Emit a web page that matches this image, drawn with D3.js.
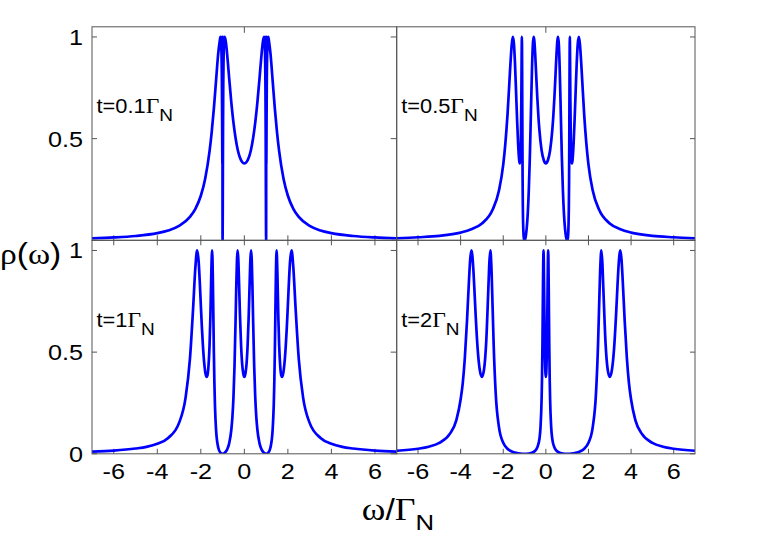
<!DOCTYPE html>
<html><head><meta charset="utf-8">
<script src="https://cdn.jsdelivr.net/npm/d3@7"></script>
<style>body{margin:0;background:#fff}</style></head>
<body><svg id="c" width="764" height="535"></svg>
<script>
// ---------- data ----------
const xTicks = [-6, -4, -2, 0, 2, 4, 6];
const yTicks = [0, 0.5, 1];
const yTickLabelsTop = ["", "0.5", "1"];
const yTickLabelsBottom = ["0", "0.5", "1"];
const panelT = ["0.1", "0.5", "1", "2"];

const curveT01 = [[-7,0.010],[-6,0.014],[-5,0.021],[-4,0.035],[-3.5,0.048],[-3,0.071],[-2.5,0.115],[-2.25,0.155],[-2,0.219],[-1.8,0.303],[-1.6,0.437],[-1.5,0.532],[-1.4,0.649],[-1.3,0.785],[-1.2,0.919],[-1.13,0.980],[-1.1,1.0],[-1.07,0.976],[-1.05,0.921],[-1.03,0.760],[-1.02,0.581],[-1.015,0.464],[-1.01,0.378],[-1.007,0.513],[-1.005,1.0],[-1.004,0.508],[-1.002,0.035],[-1,0],[-0.995,0.071],[-0.99,0.219],[-0.98,0.534],[-0.97,0.739],[-0.95,0.920],[-0.93,0.980],[-0.9025,1.0],[-0.85,0.976],[-0.8,0.926],[-0.75,0.865],[-0.7,0.800],[-0.6,0.680],[-0.5,0.579],[-0.4,0.501],[-0.3,0.443],[-0.2,0.406],[-0.1,0.385],[0,0.378],
[0.1,0.385],[0.2,0.406],[0.3,0.443],[0.4,0.501],[0.5,0.579],[0.6,0.680],[0.7,0.800],[0.75,0.865],[0.8,0.926],[0.85,0.976],[0.9025,1.0],[0.93,0.980],[0.95,0.920],[0.97,0.739],[0.98,0.534],[0.99,0.219],[0.995,0.071],[1,0],[1.002,0.035],[1.004,0.508],[1.005,1.0],[1.007,0.513],[1.01,0.378],[1.015,0.464],[1.02,0.581],[1.03,0.760],[1.05,0.921],[1.07,0.976],[1.1,1.0],[1.13,0.980],[1.2,0.919],[1.3,0.785],[1.4,0.649],[1.5,0.532],[1.6,0.437],[1.8,0.303],[2,0.219],[2.25,0.155],[2.5,0.115],[3,0.071],[3.5,0.048],[4,0.035],[5,0.021],[6,0.014],[7,0.010]];

const curveT05 = [[-7,0.010],[-6,0.015],[-5,0.022],[-4,0.038],[-3.5,0.054],[-3,0.083],[-2.5,0.150],[-2.2,0.245],[-2,0.372],[-1.9,0.477],[-1.8,0.617],[-1.7,0.799],[-1.65,0.889],[-1.6,0.964],[-1.5515,1.0],[-1.5,0.969],[-1.45,0.874],[-1.4,0.736],[-1.35,0.594],[-1.3,0.471],[-1.25,0.392],[-1.2247,0.378],[-1.2,0.397],[-1.17,0.504],[-1.15,0.694],[-1.135,0.916],[-1.1245,1.0],[-1.12,0.966],[-1.112,0.813],[-1.1,0.492],[-1.09,0.291],[-1.08,0.170],[-1.06,0.060],[-1.03,0.009],[-1,0],[-0.95,0.015],[-0.9,0.057],[-0.85,0.130],[-0.8,0.246],[-0.75,0.415],[-0.7,0.631],[-0.65,0.845],[-0.61,0.962],[-0.573,1.0],[-0.54,0.981],[-0.5,0.915],[-0.45,0.806],[-0.4,0.700],[-0.35,0.610],[-0.3,0.539],[-0.2,0.443],[-0.1,0.395],[0,0.378],
[0.1,0.395],[0.2,0.443],[0.3,0.539],[0.35,0.610],[0.4,0.700],[0.45,0.806],[0.5,0.915],[0.54,0.981],[0.573,1.0],[0.61,0.962],[0.65,0.845],[0.7,0.631],[0.75,0.415],[0.8,0.246],[0.85,0.130],[0.9,0.057],[0.95,0.015],[1,0],[1.03,0.009],[1.06,0.060],[1.08,0.170],[1.09,0.291],[1.1,0.492],[1.112,0.813],[1.12,0.966],[1.1245,1.0],[1.135,0.916],[1.15,0.694],[1.17,0.504],[1.2,0.397],[1.2247,0.378],[1.25,0.392],[1.3,0.471],[1.35,0.594],[1.4,0.736],[1.45,0.874],[1.5,0.969],[1.5515,1.0],[1.6,0.964],[1.65,0.889],[1.7,0.799],[1.8,0.617],[1.9,0.477],[2,0.372],[2.2,0.245],[2.5,0.150],[3,0.083],[3.5,0.054],[4,0.038],[5,0.022],[6,0.015],[7,0.010]];

const curveT1 = [[-7,0.011],[-6,0.016],[-5,0.026],[-4.5,0.034],[-4,0.049],[-3.5,0.078],[-3,0.152],[-2.7,0.276],[-2.5,0.467],[-2.35,0.724],[-2.25,0.917],[-2.17,1.0],[-2.1,0.946],[-2.05,0.849],[-2,0.732],[-1.95,0.619],[-1.9,0.526],[-1.85,0.453],[-1.78,0.392],[-1.732,0.378],[-1.7,0.384],[-1.65,0.428],[-1.6,0.531],[-1.56,0.677],[-1.52,0.882],[-1.481,1.0],[-1.45,0.880],[-1.425,0.688],[-1.4,0.494],[-1.375,0.343],[-1.35,0.237],[-1.3,0.118],[-1.2,0.031],[-1.1,0.005],[-1,0],[-0.9,0.005],[-0.8,0.019],[-0.7,0.050],[-0.6,0.117],[-0.55,0.179],[-0.5,0.279],[-0.45,0.438],[-0.4,0.672],[-0.37,0.828],[-0.34,0.952],[-0.3115,1.0],[-0.28,0.961],[-0.25,0.864],[-0.2,0.677],[-0.15,0.533],[-0.1,0.441],[-0.05,0.395],[0,0.378],
[0.05,0.395],[0.1,0.441],[0.15,0.533],[0.2,0.677],[0.25,0.864],[0.28,0.961],[0.3115,1.0],[0.34,0.952],[0.37,0.828],[0.4,0.672],[0.45,0.438],[0.5,0.279],[0.55,0.179],[0.6,0.117],[0.7,0.050],[0.8,0.019],[0.9,0.005],[1,0],[1.1,0.005],[1.2,0.031],[1.3,0.118],[1.35,0.237],[1.375,0.343],[1.4,0.494],[1.425,0.688],[1.45,0.880],[1.481,1.0],[1.52,0.882],[1.56,0.677],[1.6,0.531],[1.65,0.428],[1.7,0.384],[1.732,0.378],[1.78,0.392],[1.85,0.453],[1.9,0.526],[1.95,0.619],[2,0.732],[2.05,0.849],[2.1,0.946],[2.17,1.0],[2.25,0.917],[2.35,0.724],[2.5,0.467],[2.7,0.276],[3,0.152],[3.5,0.078],[4,0.049],[4.5,0.034],[5,0.026],[6,0.016],[7,0.011]];

const curveT2 = [[-7,0.015],[-6,0.025],[-5.5,0.035],[-5,0.054],[-4.5,0.099],[-4.2,0.166],[-4,0.267],[-3.9,0.348],[-3.8,0.475],[-3.7,0.655],[-3.6,0.868],[-3.55,0.956],[-3.494,1.0],[-3.45,0.975],[-3.4,0.903],[-3.35,0.801],[-3.3,0.693],[-3.2,0.515],[-3.1,0.412],[-3,0.378],[-2.9,0.416],[-2.8,0.548],[-2.7,0.808],[-2.65,0.943],[-2.6035,1.0],[-2.56,0.931],[-2.5,0.725],[-2.45,0.540],[-2.35,0.291],[-2.2,0.131],[-2,0.054],[-1.8,0.025],[-1.6,0.0116],[-1.4,0.0046],[-1.2,0.0011],[-1,0],[-0.8,0.0014],[-0.6,0.0075],[-0.5,0.015],[-0.4,0.032],[-0.3,0.074],[-0.25,0.131],[-0.2,0.267],[-0.18,0.371],[-0.16,0.536],[-0.14,0.758],[-0.125,0.919],[-0.11,1.0],[-0.095,0.937],[-0.08,0.797],[-0.06,0.606],[-0.04,0.472],[-0.02,0.400],[0,0.378],
[0.02,0.400],[0.04,0.472],[0.06,0.606],[0.08,0.797],[0.095,0.937],[0.11,1.0],[0.125,0.919],[0.14,0.758],[0.16,0.536],[0.18,0.371],[0.2,0.267],[0.25,0.131],[0.3,0.074],[0.4,0.032],[0.5,0.015],[0.6,0.0075],[0.8,0.0014],[1,0],[1.2,0.0011],[1.4,0.0046],[1.6,0.0116],[1.8,0.025],[2,0.054],[2.2,0.131],[2.35,0.291],[2.45,0.540],[2.5,0.725],[2.56,0.931],[2.6035,1.0],[2.65,0.943],[2.7,0.808],[2.8,0.548],[2.9,0.416],[3,0.378],[3.1,0.412],[3.2,0.515],[3.3,0.693],[3.35,0.801],[3.4,0.903],[3.45,0.975],[3.494,1.0],[3.55,0.956],[3.6,0.868],[3.7,0.655],[3.8,0.475],[3.9,0.348],[4,0.267],[4.2,0.166],[4.5,0.099],[5,0.054],[5.5,0.035],[6,0.025],[7,0.015]];

// ---------- layout ----------
const svg = d3.select("#c");
const colX = [[92, 396.7], [396.7, 695]];
const rowY = [[26.8, 240.3], [240.3, 453.8]];
const xDomain = [-7, 7], yDomain = [0, 1.05];
const frameColor = "#555";
const lineColor = "#0000ff";
const sx = 1.12; // horizontal text stretch
const sans = "'Liberation Sans', Arial, Helvetica, sans-serif";
const serif = "'Liberation Serif', 'Times New Roman', serif";

const curves = [curveT01, curveT05, curveT1, curveT2];

function txt(x, y, s, size, anchor) {
  return svg.append("text")
    .attr("transform", `translate(${x},${y}) scale(${sx},1)`)
    .attr("text-anchor", anchor || "start")
    .attr("font-family", sans).attr("font-size", size)
    .attr("fill", "#000").text(s);
}

curves.forEach((data, i) => {
  const c = i % 2, r = Math.floor(i / 2);
  const x = d3.scaleLinear().domain(xDomain).range(colX[c]);
  const y = d3.scaleLinear().domain(yDomain).range([rowY[r][1], rowY[r][0]]);
  const g = svg.append("g");
  const cid = "clip" + i;
  svg.append("clipPath").attr("id", cid).append("rect")
    .attr("x", colX[c][0]).attr("y", rowY[r][0])
    .attr("width", colX[c][1] - colX[c][0]).attr("height", rowY[r][1] - rowY[r][0]);

  // ticks
  const tk = g.append("g").attr("stroke", frameColor).attr("stroke-width", 1);
  xTicks.forEach(v => {
    tk.append("line").attr("x1", x(v)).attr("x2", x(v))
      .attr("y1", rowY[r][1]).attr("y2", rowY[r][1] - 5);
    if (r === 1 || v === 0) {
      tk.append("line").attr("x1", x(v)).attr("x2", x(v))
        .attr("y1", rowY[r][0]).attr("y2", rowY[r][0] + (r === 1 ? 5 : 6));
    }
  });
  yTicks.forEach(v => {
    if (c === 0) tk.append("line").attr("x1", colX[c][0]).attr("x2", colX[c][0] + 5)
      .attr("y1", y(v)).attr("y2", y(v));
    tk.append("line").attr("x1", colX[c][1]).attr("x2", colX[c][1] - (c === 0 ? 6 : 5))
      .attr("y1", y(v)).attr("y2", y(v));
  });

  // curve
  const line = d3.line().x(d => x(d[0])).y(d => y(d[1])).curve(d3.curveMonotoneX);
  g.append("path").datum(data).attr("d", line)
    .attr("clip-path", `url(#${cid})`)
    .attr("fill", "none").attr("stroke", lineColor)
    .attr("stroke-width", 2.7).attr("stroke-linejoin", "round");

  // frame
  g.append("rect").attr("x", colX[c][0]).attr("y", rowY[r][0])
    .attr("width", colX[c][1] - colX[c][0]).attr("height", rowY[r][1] - rowY[r][0])
    .attr("fill", "none").attr("stroke", frameColor).attr("stroke-width", 1);

  // y tick labels (left column)
  if (c === 0) {
    const labs = r === 0 ? yTickLabelsTop : yTickLabelsBottom;
    yTicks.forEach((v, k) => { if (labs[k]) txt(83, y(v) + 8, labs[k], 22.5, "end"); });
  }
  // x tick labels (bottom row)
  if (r === 1) {
    xTicks.forEach(v => txt(x(v), 479, String(v), 22.5, "middle"));
  }

  // panel label
  const lx = colX[c][0] + 4.5, ly = r === 0 ? 112.5 : 327;
  const t = svg.append("text")
    .attr("transform", `translate(${lx},${ly}) scale(${sx},1)`)
    .attr("font-family", sans).attr("font-size", 19.5).attr("fill", "#000");
  t.append("tspan").text("t=" + panelT[i]);
  t.append("tspan").attr("font-family", serif).attr("font-size", 21).text("Γ");
  t.append("tspan").attr("font-size", 17).attr("dy", 8).text("N");
});

// axis titles
const yl = svg.append("text")
  .attr("transform", `translate(0,264) scale(${sx},1)`)
  .attr("font-family", sans).attr("font-size", 30).attr("fill", "#000");
yl.append("tspan").attr("font-family", serif).text("ρ");
yl.append("tspan").text("(");
yl.append("tspan").attr("font-family", serif).text("ω");
yl.append("tspan").text(")");

const xl = svg.append("text")
  .attr("transform", `translate(398,520) scale(${sx},1)`)
  .attr("text-anchor", "middle")
  .attr("font-family", sans).attr("font-size", 30).attr("fill", "#000");
xl.append("tspan").attr("font-family", serif).attr("font-size", 32).text("ω");
xl.append("tspan").text("/");
xl.append("tspan").attr("font-family", serif).attr("font-size", 32).text("Γ");
xl.append("tspan").attr("font-size", 23).attr("dy", 10).text("N");
</script>
</body></html>
